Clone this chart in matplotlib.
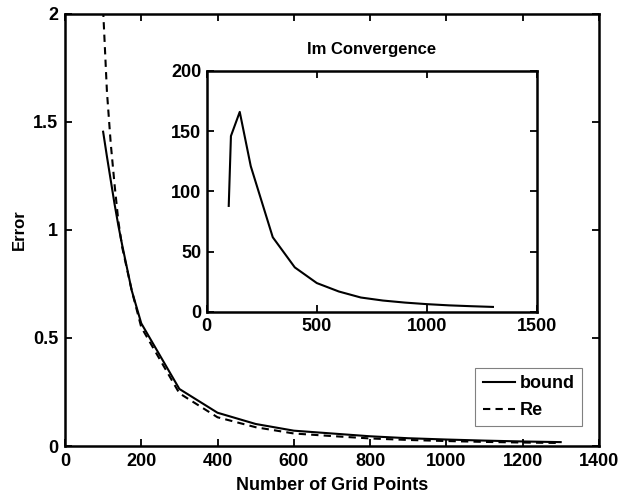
import matplotlib
matplotlib.use("Agg")
import matplotlib.pyplot as plt

plt.rcParams["font.family"] = ["Liberation Sans", "DejaVu Sans"]
plt.rcParams["font.weight"] = "bold"

# main plot data
grid_pts = [100, 110, 120, 130, 140, 150, 175, 200, 300, 400, 500, 600, 700, 800, 900, 1000, 1100, 1200, 1300]
bound = [1.455, 1.34, 1.23, 1.12, 1.02, 0.93, 0.72, 0.568, 0.264, 0.154, 0.102, 0.071, 0.058, 0.045,
         0.036, 0.030, 0.025, 0.021, 0.018]
re_err = [2.02, 1.64, 1.40, 1.21, 1.04, 0.92, 0.72, 0.55, 0.244, 0.133, 0.087, 0.058, 0.046, 0.035,
          0.028, 0.023, 0.019, 0.016, 0.014]

# inset data
im_pts = [100, 110, 150, 200, 300, 400, 500, 600, 700, 800, 900, 1000, 1100, 1200, 1300]
im_err = [88, 146, 166, 121, 62, 37, 24, 17, 12, 9.5, 7.8, 6.5, 5.5, 4.8, 4.2]

xticks_main = [0, 200, 400, 600, 800, 1000, 1200, 1400]
yticks_main = [0, 0.5, 1, 1.5, 2]
xticks_in = [0, 500, 1000, 1500]
yticks_in = [0, 50, 100, 150, 200]

fig = plt.figure(figsize=(6.31, 4.96), dpi=100)
ax = fig.add_axes([0.103, 0.1008, 0.846, 0.871])
ax.plot(grid_pts, bound, "k-", lw=1.5, label="bound")
ax.plot(grid_pts, re_err, "k--", lw=1.5, dashes=(3.5, 2.5), label="Re")
ax.set_xlim(0, 1400)
ax.set_ylim(0, 2)
ax.set_xticks(xticks_main)
ax.set_yticks(yticks_main)
ax.set_yticklabels(["0", "0.5", "1", "1.5", "2"])
ax.tick_params(direction="in", top=True, right=True, length=5, width=1.3, labelsize=13, pad=5)
for s in ax.spines.values():
    s.set_linewidth(1.8)
ax.set_xlabel("Number of Grid Points", fontsize=13, fontweight="bold", labelpad=5)
ax.set_ylabel("Error", fontsize=12, fontweight="bold", labelpad=4)
leg = ax.legend(loc="lower right", bbox_to_anchor=(0.968, 0.046), borderaxespad=0, fontsize=13,
                fancybox=False, edgecolor="gray", handlelength=1.8, handletextpad=0.25,
                borderpad=0.4, labelspacing=0.55, framealpha=1)
leg.get_frame().set_linewidth(0.8)

ins = fig.add_axes([0.3276, 0.371, 0.5234, 0.486])
ins.plot(im_pts, im_err, "k-", lw=1.5)
ins.set_xlim(0, 1500)
ins.set_ylim(0, 200)
ins.set_xticks(xticks_in)
ins.set_yticks(yticks_in)
ins.tick_params(direction="in", top=True, right=True, length=5, width=1.3, labelsize=13, pad=4)
for s in ins.spines.values():
    s.set_linewidth(1.8)
ins.set_title("Im Convergence", fontsize=12, fontweight="bold", pad=12)

fig.savefig("out.png", dpi=100)
